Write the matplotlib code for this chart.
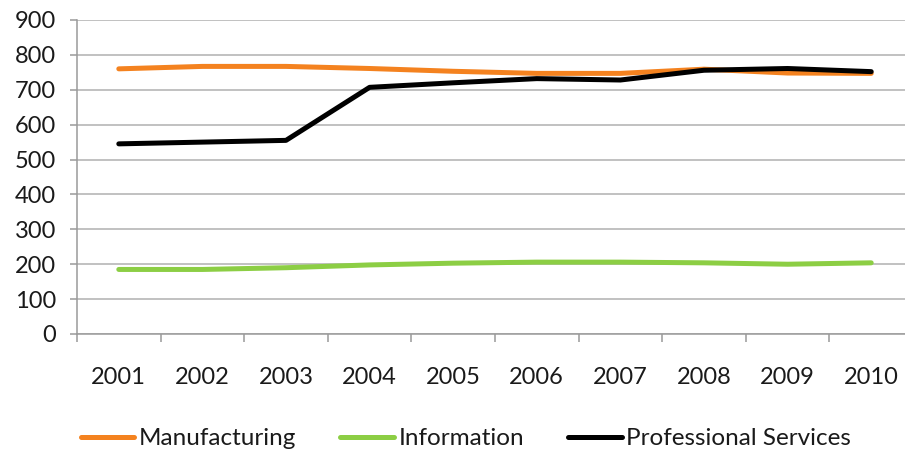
import matplotlib
matplotlib.use("Agg")
import matplotlib.pyplot as plt
from matplotlib.ticker import FixedLocator

# data
years = ["2001", "2002", "2003", "2004", "2005", "2006", "2007", "2008", "2009", "2010"]
manufacturing = [760, 767, 767, 761, 753, 747, 747, 759, 748, 747]
information = [185, 185, 190, 198, 203, 206, 206, 204, 200, 204]
professional = [545, 550, 555, 707, 720, 732, 728, 756, 761, 752]

plt.rcParams["font.family"] = ["Lato", "DejaVu Sans"]

fig = plt.figure(figsize=(9.05, 4.57), dpi=100)
W, H = 905, 457
ax = fig.add_axes([77 / W, (H - 334) / H, 836 / W, 314 / H])

x = list(range(len(years)))
ax.plot(x, manufacturing, color="#f4821f", lw=3.6, label="Manufacturing", solid_capstyle="round")
ax.plot(x, information, color="#8cce44", lw=3.6, label="Information", solid_capstyle="round")
ax.plot(x, professional, color="#000000", lw=3.6, label="Professional Services", solid_capstyle="round")

ax.set_xlim(-0.5, len(years) - 0.5)
ax.set_ylim(0, 900)
ax.set_yticks(range(0, 901, 100))
ax.set_xticks(x)
ax.set_xticklabels(years)
ax.xaxis.set_minor_locator(FixedLocator([i - 0.5 for i in range(len(years) + 1)]))

ax.grid(axis="y", color="#b0b0b0", lw=1.1)
ax.set_axisbelow(True)
for s in ["top", "right"]:
    ax.spines[s].set_visible(False)
for s in ["left", "bottom"]:
    ax.spines[s].set_color("#9a9a9a")
    ax.spines[s].set_linewidth(1.1)

ax.tick_params(axis="x", which="major", length=0, pad=24, labelsize=17, labelcolor="#1a1a1a")
ax.tick_params(axis="x", which="minor", length=6, color="#9a9a9a", width=1.1)
ax.tick_params(axis="y", length=5, color="#9a9a9a", width=1.1, pad=10, labelsize=17, labelcolor="#1a1a1a")

fig.legend(loc="center", bbox_to_anchor=(0.515, 0.04), ncol=3, frameon=False,
           fontsize=17.5, handlelength=2.2, handletextpad=0.2, columnspacing=1.8,
           labelcolor="#1a1a1a")

fig.savefig("out.png", dpi=100)
